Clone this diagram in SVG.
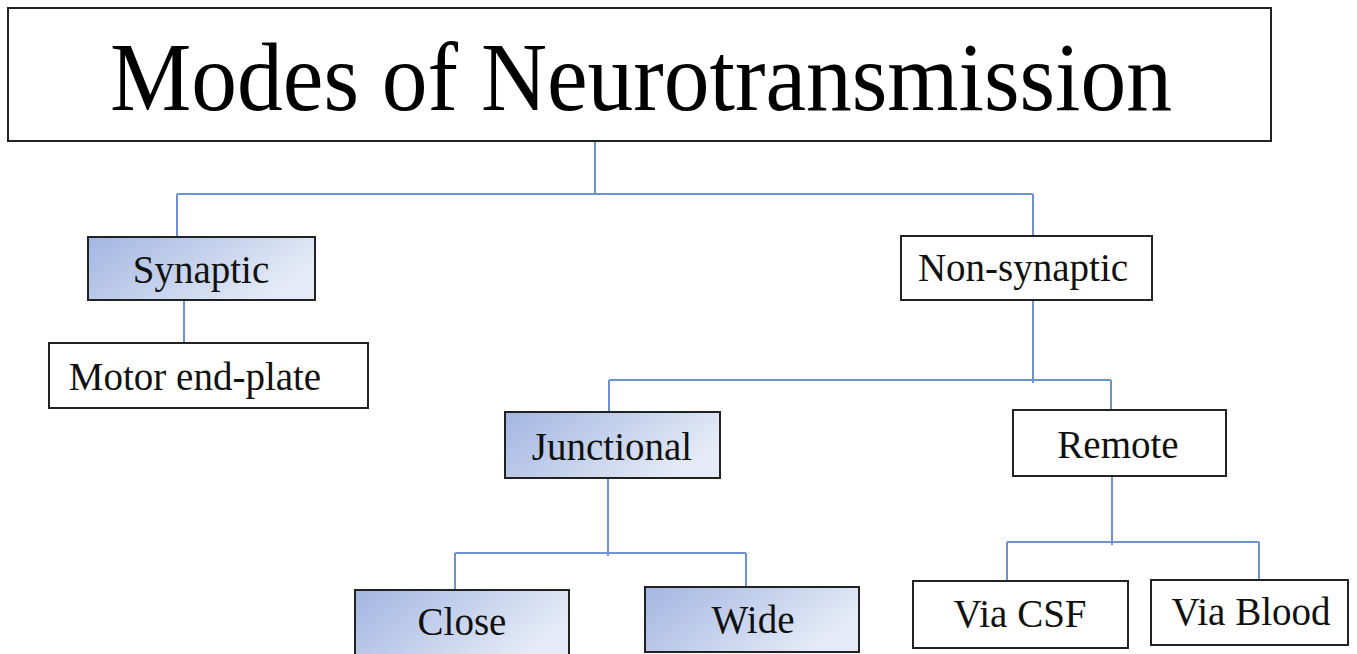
<svg xmlns="http://www.w3.org/2000/svg" width="1357" height="654" viewBox="0 0 1357 654">
<defs>
<linearGradient id="g" x1="0" y1="0" x2="1" y2="0.4">
<stop offset="0" stop-color="#a2b6e1"/>
<stop offset="1" stop-color="#e4eaf6"/>
</linearGradient>
<style>
.box{fill:#fff;stroke:#222;stroke-width:2}
.gbox{fill:url(#g);stroke:#222;stroke-width:2}
.t{font-family:"Liberation Serif","Times New Roman",serif;font-size:39px;fill:#111;text-anchor:middle}
.con{fill:none;stroke:#6d93cc;stroke-width:2}
</style>
</defs>
<rect width="1357" height="654" fill="#fff"/>
<g id="connectors">
<path class="con" d="M595,141 V194 M177,194 H1033 M177,194 V237 M1033,194 V236"/>
<path class="con" d="M184,300 V343"/>
<path class="con" d="M1033,300 V383 M609,380 H1111 M609,380 V412 M1111,380 V410"/>
<path class="con" d="M608,478 V556 M455,553 H746 M455,553 V590 M746,553 V587"/>
<path class="con" d="M1112,476 V545 M1007,542 H1259 M1007,542 V581 M1259,542 V580"/>
</g>
<g id="title">
<rect class="box" x="8" y="8" width="1263" height="133"/>
<text x="641" y="110" font-family="Liberation Serif,Times New Roman,serif" font-size="98" text-anchor="middle" fill="#000" textLength="1062" lengthAdjust="spacingAndGlyphs">Modes of Neurotransmission</text>
</g>
<g id="synaptic">
<rect class="gbox" x="88" y="237" width="227" height="63"/>
<text class="t" x="201" y="283">Synaptic</text>
</g>
<g id="motor">
<rect class="box" x="49" y="343" width="319" height="65"/>
<text class="t" x="195" y="390">Motor end-plate</text>
</g>
<g id="nonsynaptic">
<rect class="box" x="901" y="236" width="251" height="64"/>
<text class="t" x="1023" y="281">Non-synaptic</text>
</g>
<g id="junctional">
<rect class="gbox" x="505" y="412" width="215" height="66"/>
<text class="t" x="612" y="460">Junctional</text>
</g>
<g id="remote">
<rect class="box" x="1013" y="410" width="213" height="66"/>
<text class="t" x="1118" y="458">Remote</text>
</g>
<g id="close">
<rect class="gbox" x="355" y="590" width="214" height="70"/>
<text class="t" x="462" y="635">Close</text>
</g>
<g id="wide">
<rect class="gbox" x="645" y="587" width="214" height="65"/>
<text class="t" x="753" y="633">Wide</text>
</g>
<g id="viacsf">
<rect class="box" x="913" y="581" width="215" height="67"/>
<text class="t" x="1020" y="627">Via CSF</text>
</g>
<g id="viablood">
<rect class="box" x="1151" y="580" width="197" height="65"/>
<text class="t" x="1251" y="625">Via Blood</text>
</g>
</svg>
